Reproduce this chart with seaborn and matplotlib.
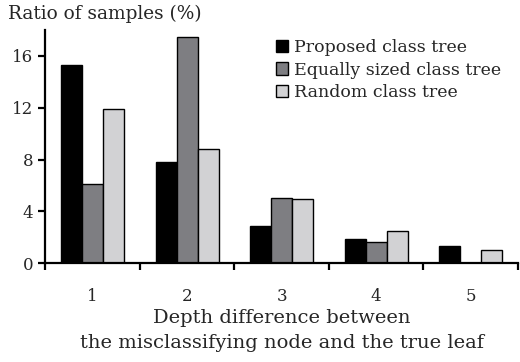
import numpy as np
import pandas as pd
import matplotlib
matplotlib.use("Agg")
import matplotlib.pyplot as plt
import seaborn as sns

# ==========================
# DATA
# ==========================

depths = ["1", "2", "3", "4", "5"]
methods = ["Proposed class tree", "Equally sized class tree", "Random class tree"]
proposed = [15.3, 7.8, 2.9, 1.85, 1.35]
equally_sized = [6.15, 17.5, 5.05, 1.6, 0.0]
random_tree = [11.9, 8.8, 4.95, 2.45, 1.05]
colors = ["#000000", "#7e7e82", "#d2d2d4"]

df = pd.DataFrame({
    "depth": depths * 3,
    "method": [methods[0]] * 5 + [methods[1]] * 5 + [methods[2]] * 5,
    "ratio": proposed + equally_sized + random_tree,
})

# ==========================
# PLOT
# ==========================

sns.set_theme(style="ticks")
plt.rcParams["font.family"] = ["DejaVu Serif"]

fig = plt.figure(figsize=(5.2, 3.62), dpi=100)
ax = fig.add_axes([0.087, 0.273, 0.909, 0.644])

sns.barplot(
    data=df, x="depth", y="ratio", hue="method",
    hue_order=methods, palette=colors, width=0.667,
    edgecolor="black", linewidth=1.0, saturation=1, ax=ax
)

ax.set_xlim(-0.5, 4.5)
ax.set_ylim(0, 18)
ax.set_yticks([0, 4, 8, 12, 16])

# ticks on category boundaries, labels at category centres
ax.set_xticks(np.arange(-0.5, 5.0, 1.0))
ax.set_xticklabels([])
ax.set_xticks(np.arange(5), minor=True)
ax.set_xticklabels(depths, minor=True)
ax.tick_params(axis="x", which="minor", length=0, pad=18, labelsize=12)
ax.tick_params(axis="x", which="major", length=5, width=1.6, direction="out", color="black")
ax.tick_params(axis="y", length=5, width=1.6, direction="out", labelsize=12, color="black")

for s in ["top", "right"]:
    ax.spines[s].set_visible(False)
for s in ["left", "bottom"]:
    ax.spines[s].set_linewidth(1.6)
    ax.spines[s].set_color("black")

ax.set_ylabel("")
ax.set_xlabel("Depth difference between\nthe misclassifying node and the true leaf",
              fontsize=14, labelpad=3, linespacing=1.5)
fig.text(0.015, 0.963, "Ratio of samples (%)", fontsize=13.3, va="center", ha="left")

leg = ax.legend(
    loc="upper left", bbox_to_anchor=(0.474, 0.99), frameon=False,
    fontsize=12.5, handlelength=0.7, handleheight=0.7, handletextpad=0.3,
    labelspacing=0.3, borderaxespad=0
)
for h in leg.legend_handles:
    h.set_edgecolor("black")
    h.set_linewidth(1.0)

fig.savefig("out.png", dpi=100)
